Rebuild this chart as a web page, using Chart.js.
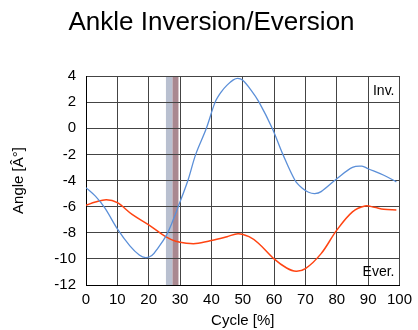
<!DOCTYPE html>
<html>
<head>
<meta charset="UTF-8">
<title>Ankle Inversion/Eversion</title>
<script src="https://cdn.jsdelivr.net/npm/chart.js"></script>
<style>
  html, body { margin: 0; padding: 0; background: #fff; }
  #wrap { width: 418px; height: 330px; }
</style>
</head>
<body>
<div id="wrap"><canvas id="grafico" width="418" height="330"></canvas></div>
<script>
// valores (ciclo %, angulo)
const invCycle = [0, 3, 6, 10, 14, 17, 19, 21, 23, 25.4, 27.5, 29.5, 32.5, 35, 38.4, 41.2, 43.1, 45, 47, 48.4, 50, 52.7, 55.2, 59.4, 62.8, 66.7, 69, 71, 73, 75, 80, 85, 88, 90, 95, 99];
const invAngle = [-4.55, -5.2, -6.1, -7.7, -9.0, -9.7, -9.9, -9.75, -9.15, -8.3, -7.2, -5.95, -4.0, -2.0, 0, 2.0, 2.77, 3.3, 3.7, 3.82, 3.67, 2.9, 2.0, 0, -2.0, -4.0, -4.6, -4.9, -5.0, -4.85, -3.86, -3.0, -2.9, -3.1, -3.6, -4.1];

const everCycle = [0, 3, 6.5, 10, 14.7, 20, 25.4, 28.6, 32, 35, 40, 45, 48.5, 52, 55, 60, 64, 67, 70, 75, 80, 85, 89, 92, 95, 99];
const everAngle = [-5.9, -5.65, -5.47, -5.7, -6.6, -7.4, -8.3, -8.65, -8.8, -8.83, -8.6, -8.3, -8.07, -8.3, -8.8, -10.0, -10.7, -10.95, -10.75, -9.6, -7.8, -6.4, -5.95, -6.05, -6.2, -6.25];

// franjas verticales (inicio, fin en %)
const bandStart = [25.5, 27.6];
const bandEnd = [27.6, 29.5];
const bandColor = ['#b9c0d0', '#a98890'];

const yTicks = [4, 2, 0, -2, -4, -6, -8, -10, -12];
const xTicks = [0, 10, 20, 30, 40, 50, 60, 70, 80, 90, 100];

const titulo = 'Ankle Inversion/Eversion';
const fuente = "'Liberation Sans', Arial, sans-serif";

function pares(xs, ys) {
  return xs.map((x, i) => ({ x: x, y: ys[i] }));
}

// dibuja las franjas debajo de la cuadricula
const franjas = {
  id: 'franjas',
  beforeDraw(chart) {
    const { ctx, chartArea, scales } = chart;
    ctx.save();
    bandStart.forEach((s, i) => {
      const x1 = scales.x.getPixelForValue(s);
      const x2 = scales.x.getPixelForValue(bandEnd[i]);
      ctx.fillStyle = bandColor[i];
      ctx.fillRect(x1, chartArea.top, x2 - x1, chartArea.bottom - chartArea.top);
    });
    ctx.restore();
  }
};

// titulo y textos Inv. / Ever.
const etiquetas = {
  id: 'etiquetas',
  afterDraw(chart) {
    const { ctx, chartArea } = chart;
    ctx.save();
    ctx.fillStyle = '#000';
    ctx.textAlign = 'center';
    ctx.textBaseline = 'alphabetic';
    ctx.font = '26px ' + fuente;
    ctx.fillText(titulo, 211.5, 30);
    ctx.font = '14px ' + fuente;
    ctx.textAlign = 'right';
    ctx.textBaseline = 'middle';
    ctx.fillText('Inv.', chartArea.right - 5, chartArea.top + 15);
    ctx.fillText('Ever.', chartArea.right - 5, chartArea.bottom - 13);
    ctx.restore();
  }
};

const ctx = document.getElementById('grafico').getContext('2d');
new Chart(ctx, {
  type: 'line',
  data: {
    datasets: [
      {
        label: 'Inv.',
        data: pares(invCycle, invAngle),
        borderColor: '#5b8fd8',
        borderWidth: 1.3,
        pointRadius: 0,
        tension: 0.35
      },
      {
        label: 'Ever.',
        data: pares(everCycle, everAngle),
        borderColor: '#ff4412',
        borderWidth: 1.5,
        pointRadius: 0,
        tension: 0.35
      }
    ]
  },
  options: {
    responsive: false,
    animation: false,
    layout: { padding: { left: 10, right: 17, top: 76, bottom: 0 } },
    plugins: {
      legend: { display: false },
      tooltip: { enabled: false },
      title: { display: false }
    },
    scales: {
      x: {
        type: 'linear',
        min: 0,
        max: 100,
        afterBuildTicks(scale) { scale.ticks = xTicks.map(v => ({ value: v })); },
        afterFit(scale) { scale.height = 45; },
        grid: { color: '#444', lineWidth: 1, drawTicks: false },
        border: { color: '#000', width: 1 },
        ticks: { color: '#000', padding: 6, font: { size: 15, family: fuente } },
        title: {
          display: true,
          text: 'Cycle [%]',
          color: '#000',
          font: { size: 15, family: fuente },
          padding: { top: 2, bottom: 0 }
        }
      },
      y: {
        min: -12,
        max: 4,
        afterBuildTicks(scale) { scale.ticks = yTicks.map(v => ({ value: v })); },
        afterFit(scale) { scale.width = 76; },
        grid: { color: '#444', lineWidth: 1, drawTicks: false },
        border: { color: '#000', width: 1 },
        ticks: { color: '#000', padding: 10, font: { size: 15, family: fuente } },
        title: {
          display: true,
          text: 'Angle [Â°]',
          color: '#000',
          font: { size: 15, family: fuente },
          padding: { top: 0, bottom: 8 }
        }
      }
    }
  },
  plugins: [franjas, etiquetas]
});
</script>
</body>
</html>
